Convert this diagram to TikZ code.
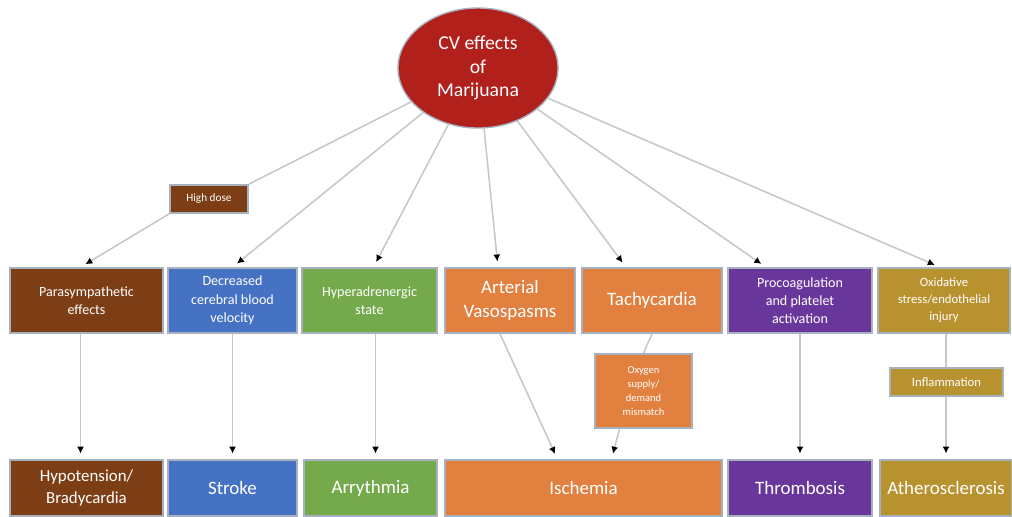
\documentclass[tikz,border=0pt]{standalone}
\usepackage{fontspec}
\setmainfont{Carlito}
\usepackage{tikz}
\usetikzlibrary{shapes,arrows.meta,positioning,calc}

\definecolor{mjred}{RGB}{178,32,28}
\definecolor{mjbrown}{RGB}{125,62,22}
\definecolor{mjblue}{RGB}{70,114,196}
\definecolor{mjgreen}{RGB}{116,170,76}
\definecolor{mjorange}{RGB}{226,128,64}
\definecolor{mjpurple}{RGB}{105,55,155}
\definecolor{mjgold}{RGB}{185,146,48}
\definecolor{mjedge}{RGB}{168,178,190}

\begin{document}
\begin{tikzpicture}[
    x=0.025cm, y=-0.025cm,
    box/.style={rectangle, draw=mjedge, line width=1.2pt, text=white, align=center, inner sep=2pt},
    small/.style={font=\fontsize{10}{13}\selectfont},
    big/.style={font=\fontsize{13.5}{17}\selectfont},
    conn/.style={draw=black!22, line width=1.1pt, -{Latex[length=5pt,width=5pt,color=black]}, shorten >=4pt},
    plain/.style={draw=black!22, line width=1.1pt}
]
\useasboundingbox (0,0) rectangle (1012,516);

% Centre
\node[ellipse, draw=mjedge, line width=1pt, fill=mjred, text=white, minimum width=4cm, minimum height=3cm, align=center, font=\fontsize{14}{16.5}\selectfont] (cv) at (478,68) {CV effects\\of\\Marijuana};

% High dose
\node[box, fill=mjbrown, minimum width=1.95cm, minimum height=0.7cm, font=\fontsize{8}{10}\selectfont] (dose) at (209,199) {High dose};

% Mechanisms
\node[box, small, fill=mjbrown, minimum width=3.825cm, minimum height=1.625cm] (para) at (86.5,300.5) {Parasympathetic\\effects};
\node[box, small, fill=mjblue, minimum width=3.225cm, minimum height=1.625cm] (cbv) at (232.5,300.5) {Decreased\\cerebral blood\\velocity};
\node[box, small, fill=mjgreen, minimum width=3.375cm, minimum height=1.625cm] (hyper) at (369.5,300.5) {Hyperadrenergic\\state};
\node[box, big, fill=mjorange, minimum width=3.25cm, minimum height=1.625cm] (vaso) at (510,300.5) {Arterial\\Vasospasms};
\node[box, big, fill=mjorange, minimum width=3.5cm, minimum height=1.625cm] (tachy) at (652,300.5) {Tachycardia};
\node[box, small, fill=mjpurple, minimum width=3.6cm, minimum height=1.625cm] (procoag) at (800,300.5) {Procoagulation\\and platelet\\activation};
\node[box, font=\fontsize{9}{12}\selectfont, fill=mjgold, minimum width=3.3cm, minimum height=1.625cm] (oxid) at (944,300.5) {Oxidative\\stress/endothelial\\injury};

% Intermediate
\node[box, fill=mjorange, minimum width=2.425cm, minimum height=1.85cm, font=\fontsize{7.5}{10}\selectfont] (mismatch) at (643.5,391) {Oxygen\\supply/\\demand\\mismatch};
\node[box, fill=mjgold, minimum width=2.825cm, minimum height=0.7cm, font=\fontsize{9}{11}\selectfont] (inflam) at (946.5,382) {Inflammation};

% Outcomes
\node[box, fill=mjbrown, minimum width=3.825cm, minimum height=1.4cm, font=\fontsize{12}{15}\selectfont] (hypo) at (86.5,488) {Hypotension/\\Bradycardia};
\node[box, big, fill=mjblue, minimum width=3.225cm, minimum height=1.4cm] (stroke) at (232.5,488) {Stroke};
\node[box, big, fill=mjgreen, minimum width=3.325cm, minimum height=1.4cm] (arr) at (370.5,488) {Arrythmia};
\node[box, big, fill=mjorange, minimum width=6.925cm, minimum height=1.4cm] (isch) at (583.5,488) {Ischemia};
\node[box, big, fill=mjpurple, minimum width=3.6cm, minimum height=1.4cm] (thromb) at (800,488) {Thrombosis};
\node[box, big, fill=mjgold, minimum width=3.3cm, minimum height=1.4cm] (athero) at (946,488) {Atherosclerosis};

% Arrows from centre
\draw[plain] (cv) -- (dose.north east);
\draw[conn] (dose.south west) -- ([xshift=-0.15cm]para.north);
\draw[conn] (cv) -- (cbv.north);
\draw[conn] (cv) -- ([xshift=0.1cm]hyper.north);
\draw[conn] (cv) -- ([xshift=-0.3cm]vaso.north);
\draw[conn] (cv) -- ([xshift=-0.65cm]tachy.north);
\draw[conn] (cv) -- ([xshift=-0.85cm]procoag.north);
\draw[conn] (cv) -- ([xshift=-0.1cm]oxid.north);

% Arrows to outcomes
\draw[conn] ([xshift=-0.15cm]para.south) -- ([xshift=-0.15cm]hypo.north);
\draw[conn] (cbv.south) -- (stroke.north);
\draw[conn] ([xshift=0.15cm]hyper.south) -- ([xshift=0.15cm]hyper.south |- arr.north);
\draw[conn] ([xshift=-0.25cm]vaso.south) -- ([xshift=-0.65cm]isch.north);
\draw[plain] (tachy.south) -- (mismatch.north);
\draw[conn] ([xshift=-0.6cm]mismatch.south) -- ([xshift=0.7cm]isch.north);
\draw[conn] (procoag.south) -- (thromb.north);
\draw[plain] ([xshift=0.05cm]oxid.south) -- ([xshift=0.05cm]oxid.south |- inflam.north);
\draw[conn] ([xshift=0.05cm]oxid.south |- inflam.south) -- ([xshift=0.05cm]oxid.south |- athero.north);

\end{tikzpicture}
\end{document}
